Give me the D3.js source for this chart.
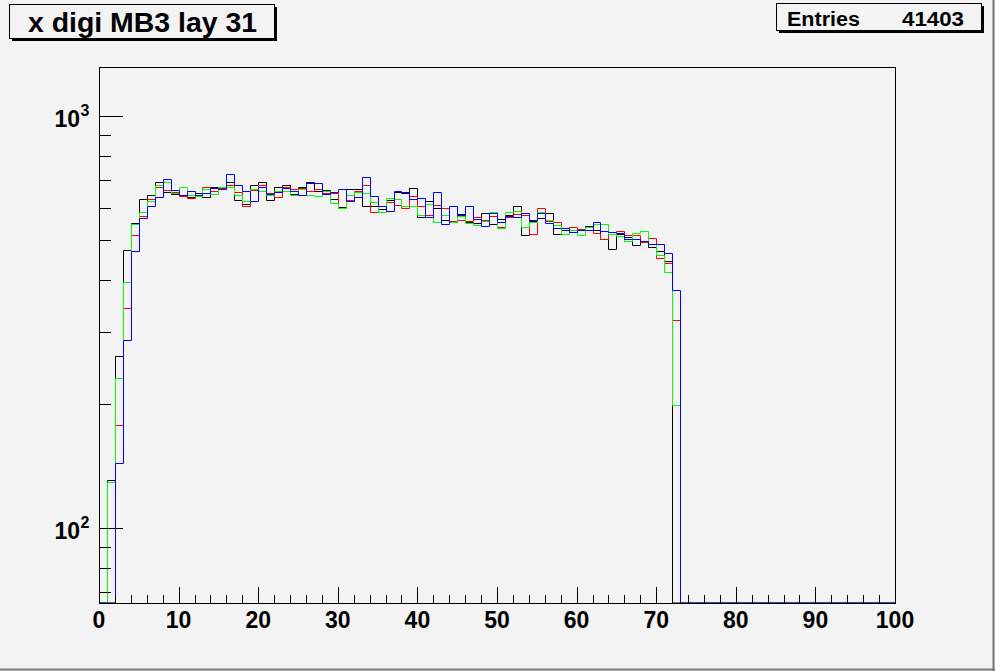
<!DOCTYPE html>
<html>
<head>
<meta charset="utf-8">
<script src="https://cdn.jsdelivr.net/npm/d3@7"></script>
<style>
  html, body { margin: 0; padding: 0; background: #f3f3f3; }
  svg { display: block; }
  text { font-family: "Liberation Sans", Arial, Helvetica, sans-serif; font-weight: bold; }
</style>
</head>
<body>
<svg id="chart" width="995" height="671"></svg>
<script>
// ---- data ----
const title = "x digi MB3 lay 31";
const statsLabel = "Entries";
const statsValue = "41403";
const xTickLabels = [0, 10, 20, 30, 40, 50, 60, 70, 80, 90, 100];
const yMajorTicks = [100, 1000];
const yMajorLabels = ["10", "10"];
const yMajorExps = ["2", "3"];
const yMinorTicks = [70, 80, 90, 200, 300, 400, 500, 600, 700, 800, 900];
const nBins = 100;
// bin contents (bins 0..72, remaining bins are empty)
const blackSeries = [0,131,261,473,550,629,643,691,656,648,642,637,650,637,675,675,691,625,613,681,694,625,672,681,647,672,691,659,662,629,603,665,665,607,607,595,626,655,652,668,568,622,598,560,554,580,554,550,581,547,562,575,605,514,558,567,581,517,530,522,532,541,528,504,475,518,508,486,497,480,470,444,0];
const redSeries   = [0,0,178,342,514,572,628,672,661,655,640,632,639,675,657,670,680,653,606,661,680,650,637,675,665,670,659,665,650,650,600,626,660,681,584,604,619,609,598,639,605,577,609,598,557,560,557,568,559,572,537,568,578,575,517,598,556,552,534,538,532,537,520,503,522,525,514,516,495,505,452,440,320];
const greenSeries = [0,129,232,395,548,585,622,680,691,652,675,642,641,665,646,672,672,644,622,665,657,643,657,657,645,665,644,641,659,615,598,644,654,650,619,584,632,629,605,605,577,612,552,577,552,571,551,545,556,584,535,584,590,537,552,587,559,545,517,530,514,538,547,547,518,513,497,520,525,489,461,418,199];
const blueSeries  = [0,0,144,286,470,566,605,636,704,662,643,657,643,650,669,665,723,681,657,622,675,646,653,668,659,645,688,688,647,654,665,622,636,711,639,607,588,657,654,629,632,568,654,547,605,575,605,562,540,581,553,572,568,581,561,583,550,534,534,522,528,528,552,525,522,520,502,502,499,489,489,465,378];
const seriesColors = ["#000000", "#ff0000", "#00ff00", "#0000ff"];

// ---- layout ----
const svg = d3.select("#chart");
const W = 995, H = 671;
const pL = 99, pR = 895, pT = 67, pB = 603;

svg.append("rect").attr("x", 0).attr("y", 0).attr("width", W).attr("height", H).attr("fill", "#f3f3f3");

const xs = d3.scaleLinear().domain([0, 100]).range([pL, pR]);
const ys = d3.scaleLog().domain([65.74, 1317]).range([pB, pT]);

// frame
svg.append("rect").attr("x", pL + 0.5).attr("y", pT + 0.5)
  .attr("width", pR - pL).attr("height", pB - pT)
  .attr("fill", "none").attr("stroke", "#000").attr("stroke-width", 1);

// histograms
function padBins(arr) {
  const out = arr.slice();
  while (out.length < nBins) out.push(0);
  return out;
}
const allSeries = [blackSeries, redSeries, greenSeries, blueSeries].map(padBins);
const yMinV = ys.domain()[0], yMaxV = ys.domain()[1];
function yy(v) {
  if (v <= yMinV) return pB;
  if (v >= yMaxV) return pT;
  return Math.round(ys(v)) + 0.5;
}
function xx(k) { return Math.round(xs(k)) + 0.5; }
const lineGen = d3.line().x(d => d[0]).y(d => d[1]);
allSeries.forEach((vals, i) => {
  const pts = [];
  vals.forEach((v, k) => {
    pts.push([xx(k), yy(v)]);
    pts.push([xx(k + 1), yy(v)]);
  });
  svg.append("path")
    .attr("d", lineGen(pts))
    .attr("fill", "none")
    .attr("stroke", seriesColors[i])
    .attr("stroke-width", 1);
});

// x axis ticks (pointing up into plot)
const gx = svg.append("g");
d3.range(0, 101, 2).forEach(t => {
  const major = t % 10 === 0;
  gx.append("line")
    .attr("x1", Math.round(xs(t)) + 0.5).attr("x2", Math.round(xs(t)) + 0.5)
    .attr("y1", pB).attr("y2", pB - (major ? 16 : 8))
    .attr("stroke", "#000").attr("stroke-width", 1);
});
svg.append("line").attr("x1", pL).attr("x2", pR + 1)
  .attr("y1", pB + 0.5).attr("y2", pB + 0.5).attr("stroke", "#000");
xTickLabels.forEach(t => {
  gx.append("text")
    .attr("x", xs(t)).attr("y", 628)
    .attr("text-anchor", "middle")
    .attr("font-size", 23)
    .attr("fill", "#000")
    .text(t);
});

// y axis ticks (pointing right into plot)
const gy = svg.append("g");
yMajorTicks.forEach((t, i) => {
  const py = Math.round(ys(t)) + 0.5;
  gy.append("line").attr("x1", pL).attr("x2", pL + 24)
    .attr("y1", py).attr("y2", py).attr("stroke", "#000");
  gy.append("text")
    .attr("x", 80).attr("y", py + 10)
    .attr("text-anchor", "end")
    .attr("font-size", 23)
    .attr("fill", "#000")
    .text(yMajorLabels[i]);
  gy.append("text")
    .attr("x", 80.5).attr("y", py - 0.5)
    .attr("font-size", 16)
    .attr("fill", "#000")
    .text(yMajorExps[i]);
});
yMinorTicks.forEach(t => {
  const py = Math.round(ys(t)) + 0.5;
  gy.append("line").attr("x1", pL).attr("x2", pL + 12)
    .attr("y1", py).attr("y2", py).attr("stroke", "#000");
});

// title box
svg.append("rect").attr("x", 12).attr("y", 7).attr("width", 265).attr("height", 34).attr("fill", "#000");
svg.append("rect").attr("x", 9.5).attr("y", 4.5).attr("width", 265).attr("height", 34)
  .attr("fill", "#f3f3f3").attr("stroke", "#000").attr("stroke-width", 1);
svg.append("text").attr("x", 28).attr("y", 31.5)
  .attr("font-size", 27).attr("fill", "#000")
  .attr("textLength", 229).attr("lengthAdjust", "spacingAndGlyphs")
  .text(title);

// stats box
svg.append("rect").attr("x", 779).attr("y", 6).attr("width", 205).attr("height", 27).attr("fill", "#000");
svg.append("rect").attr("x", 776.5).attr("y", 3.5).attr("width", 205).attr("height", 27)
  .attr("fill", "#f3f3f3").attr("stroke", "#000").attr("stroke-width", 1);
svg.append("text").attr("x", 787).attr("y", 26).attr("font-size", 20).attr("fill", "#000")
  .attr("textLength", 73).attr("lengthAdjust", "spacingAndGlyphs").text(statsLabel);
svg.append("text").attr("x", 902).attr("y", 26).attr("font-size", 20).attr("fill", "#000")
  .attr("textLength", 62).attr("lengthAdjust", "spacingAndGlyphs").text(statsValue);

// canvas border (right / bottom bevel)
svg.append("line").attr("x1", 993.5).attr("x2", 993.5).attr("y1", 0).attr("y2", H).attr("stroke", "#777").attr("stroke-width", 2);
svg.append("line").attr("x1", 0).attr("x2", W).attr("y1", 669.5).attr("y2", 669.5).attr("stroke", "#777").attr("stroke-width", 2);
</script>
</body>
</html>
